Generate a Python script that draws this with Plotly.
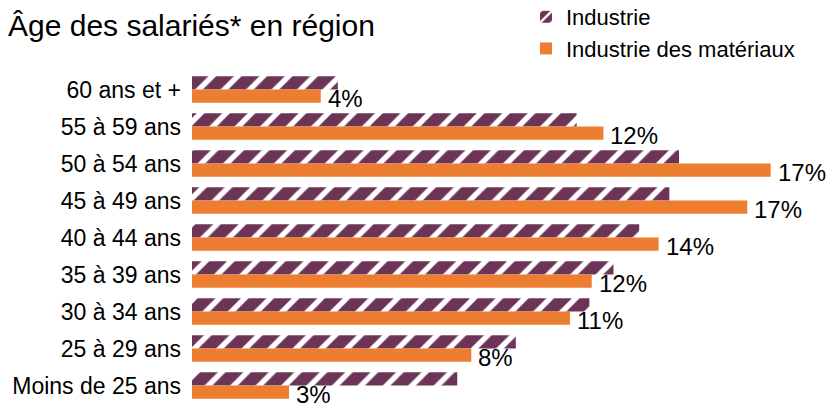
import plotly.graph_objects as go

categories = ["60 ans et +", "55 à 59 ans", "50 à 54 ans", "45 à 49 ans", "40 à 44 ans",
              "35 à 39 ans", "30 à 34 ans", "25 à 29 ans", "Moins de 25 ans"]
industrie = [4.36, 11.5, 14.56, 14.27, 13.37, 12.6, 11.88, 9.68, 7.93]
materiaux = [3.85, 12.3, 17.3, 16.6, 13.95, 11.95, 11.3, 8.35, 2.9]
series_names = ["Industrie", "Industrie des matériaux"]
title_text = "Âge des salariés* en région"

PURPLE = "#6C3558"
ORANGE = "#ED7D31"
FONT = "Liberation Sans, Arial, sans-serif"

fig = go.Figure()
fig.add_trace(go.Bar(
    y=categories, x=industrie, orientation="h", name=series_names[0],
    marker=dict(color=PURPLE, line=dict(width=0),
                pattern=dict(shape="/", fgcolor="white", bgcolor=PURPLE,
                             size=18, solidity=0.3, fillmode="overlay", fgopacity=1)),
))
fig.add_trace(go.Bar(
    y=categories, x=materiaux, orientation="h", name=series_names[1],
    marker=dict(color=ORANGE, line=dict(width=0)),
))

annotations = []
for cat, v in zip(categories, materiaux):
    annotations.append(dict(
        x=v, y=cat, xref="x", yref="y", text=f"{int(v + 0.5)}%", showarrow=False,
        xanchor="left", yanchor="middle", xshift=5, yshift=-9,
        font=dict(family=FONT, size=24, color="#000000"),
    ))
annotations.append(dict(
    x=(377 - 192) / 630, y=(404 - 25) / 333, xref="paper", yref="paper",
    text=title_text, showarrow=False, xanchor="right", yanchor="middle",
    font=dict(family=FONT, size=30, color="#000000"),
))

fig.update_layout(
    width=834, height=406,
    margin=dict(l=192, r=12, t=71, b=2, pad=0, autoexpand=False),
    paper_bgcolor="white", plot_bgcolor="white",
    barmode="group", bargap=0.28, bargroupgap=0,
    showlegend=True,
    legend=dict(x=(526 - 192) / 630, y=(404 + 4) / 333,
                xanchor="left", yanchor="top",
                font=dict(family=FONT, size=22, color="#000000"),
                traceorder="normal", bgcolor="rgba(0,0,0,0)", itemwidth=30,
                tracegroupgap=0),
    xaxis=dict(range=[0, 630 / 33.45], visible=False, showgrid=False, zeroline=False),
    yaxis=dict(range=[len(categories) - 0.5, -0.5], autorange=False,
               showgrid=False, showline=False, ticks="",
               ticklabelstandoff=10, automargin=False,
               tickfont=dict(family=FONT, size=23, color="#000000")),
    annotations=annotations,
    font=dict(family=FONT),
)

fig.write_html("out.html", config={"displayModeBar": False},
               post_script="document.body.style.margin='0';")
